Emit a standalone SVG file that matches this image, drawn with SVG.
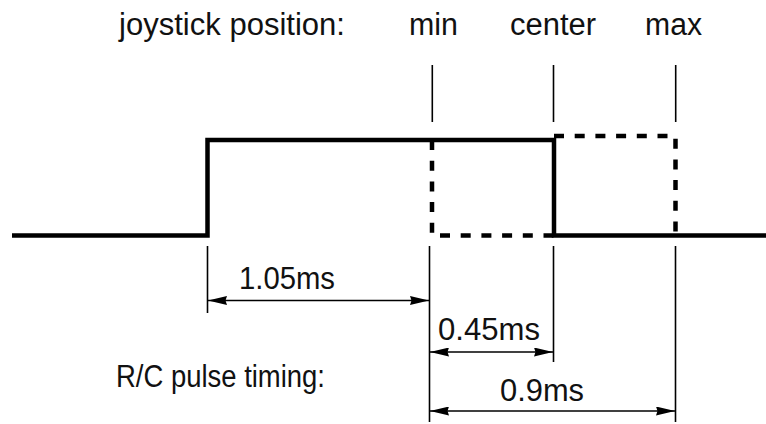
<svg xmlns="http://www.w3.org/2000/svg" width="766" height="424" viewBox="0 0 766 424">
<style>
text{font-family:"Liberation Sans",Arial,sans-serif;font-size:31px;fill:#111}
.sig{fill:none;stroke:#000;stroke-width:4.5;stroke-linejoin:miter}
.dash{fill:none;stroke:#000;stroke-width:4.5;stroke-dasharray:10 10.7}
.thin{stroke:#000;stroke-width:1.6;fill:none}
.dim{stroke:#000;stroke-width:1.6;fill:none;marker-start:url(#ah);marker-end:url(#ah)}
</style>
<defs>
<marker id="ah" viewBox="0 0 19 9" refX="19" refY="4.5" markerWidth="19" markerHeight="9" markerUnits="userSpaceOnUse" orient="auto-start-reverse">
<path d="M0,0 L19,4.5 L0,9 L1.5,4.5 Z" fill="#000"/>
</marker>
</defs>
<g id="labels">
<text x="119" y="35" textLength="226" lengthAdjust="spacingAndGlyphs">joystick position:</text>
<text x="409" y="35" textLength="49" lengthAdjust="spacingAndGlyphs">min</text>
<text x="510" y="35" textLength="86" lengthAdjust="spacingAndGlyphs">center</text>
<text x="645" y="35" textLength="57" lengthAdjust="spacingAndGlyphs">max</text>
<text x="116" y="387" textLength="209" lengthAdjust="spacingAndGlyphs">R/C pulse timing:</text>
</g>
<g id="ticks">
<line class="thin" x1="432.3" y1="65" x2="432.3" y2="122"/>
<line class="thin" x1="553.5" y1="65" x2="553.5" y2="122"/>
<line class="thin" x1="675.7" y1="65" x2="675.7" y2="122"/>
</g>
<g id="signal">
<path class="sig" d="M12,235.5 H207.5 V140 H554 V235.5 H766"/>
<path class="dash" d="M432,140 V235.5 H554"/>
<path class="dash" d="M554,136 H675.5 V235.5"/>
</g>
<g id="connectors">
<line class="thin" x1="207.5" y1="246" x2="207.5" y2="313"/>
<line class="thin" x1="429.5" y1="246" x2="429.5" y2="422"/>
<line class="thin" x1="553.5" y1="246" x2="553.5" y2="362"/>
<line class="thin" x1="675.5" y1="246" x2="675.5" y2="422"/>
<line class="dim" x1="208" y1="300.5" x2="429" y2="300.5"/>
<line class="dim" x1="430" y1="352" x2="553" y2="352"/>
<line class="dim" x1="430" y1="411" x2="675" y2="411"/>
</g>
<g id="dimlabels">
<text x="239" y="289" textLength="96" lengthAdjust="spacingAndGlyphs">1.05ms</text>
<text x="438" y="340" textLength="102" lengthAdjust="spacingAndGlyphs">0.45ms</text>
<text x="500" y="401" textLength="84" lengthAdjust="spacingAndGlyphs">0.9ms</text>
</g>
</svg>
